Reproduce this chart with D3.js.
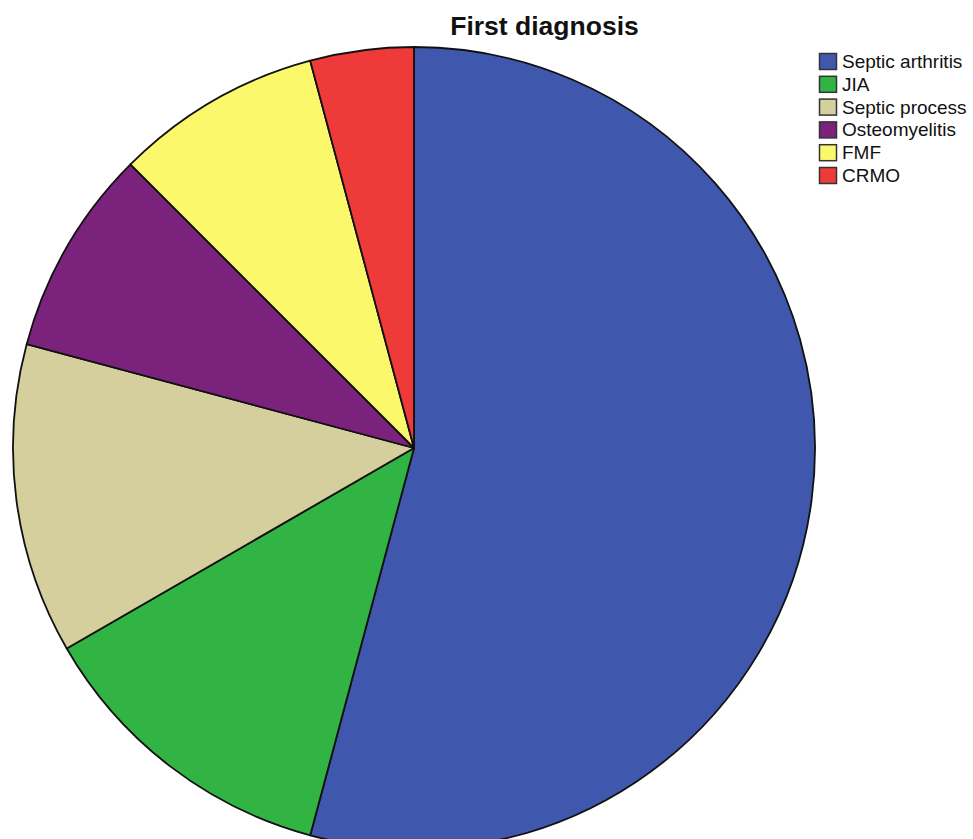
<!DOCTYPE html>
<html><head><meta charset="utf-8">
<script src="https://cdn.jsdelivr.net/npm/d3@7"></script>
<style>html,body{margin:0;padding:0;background:#fff;overflow:hidden}</style>
</head><body>
<svg id="c" width="973" height="839"></svg>
<script>
const categories = ["Septic arthritis","JIA","Septic process","Osteomyelitis","FMF","CRMO"];
const counts = [13,3,3,2,2,1];
const colors = ["#3f58ad","#31b444","#d4cf9c","#7b237c","#fbf96b","#ef3a3a"];
const title = "First diagnosis";

const svg = d3.select("#c");
const cx = 414, cy = 448, r = 401;
const data = categories.map((c,i)=>({cat:c, v:counts[i], col:colors[i]}));
const pie = d3.pie().sort(null).value(d=>d.v);
const arc = d3.arc().innerRadius(0).outerRadius(r);
svg.append("g").attr("transform",`translate(${cx},${cy})`)
  .selectAll("path").data(pie(data)).join("path")
  .attr("d",arc).attr("fill",d=>d.data.col)
  .attr("stroke","#111").attr("stroke-width",1.8).attr("stroke-linejoin","round");

svg.append("text").attr("x",544.5).attr("y",35).attr("text-anchor","middle")
  .attr("font-family","Liberation Sans, Arial, sans-serif").attr("font-weight","bold")
  .attr("font-size",26.5).attr("fill","#111").text(title);

const lg = svg.append("g").attr("transform","translate(819,53)");
const row = lg.selectAll("g").data(data).join("g").attr("transform",(d,i)=>`translate(0,${i*22.8})`);
row.append("rect").attr("x",0.5).attr("y",0.5).attr("width",17).attr("height",16)
  .attr("fill",d=>d.col).attr("stroke","#333").attr("stroke-width",1.5);
row.append("text").attr("x",23).attr("y",15)
  .attr("font-family","Liberation Sans, Arial, sans-serif").attr("font-size",19)
  .attr("fill","#111").text(d=>d.cat);
</script>
</body></html>
